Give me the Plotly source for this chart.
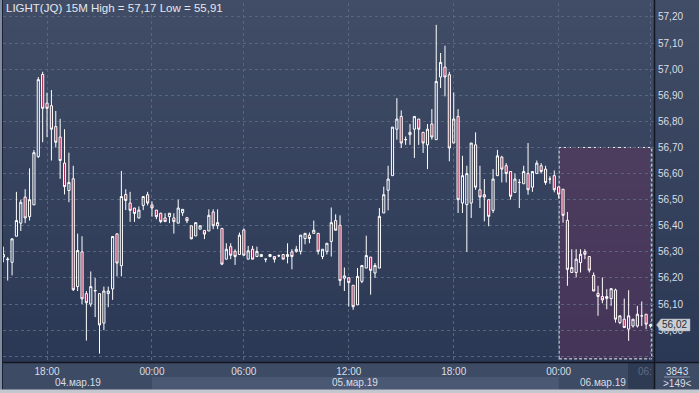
import plotly.graph_objects as go

# ---------------- data (15-minute bars, LIGHT(JQ)) ----------------
bar_open = [56.29, 56.27, 56.26, 56.36, 56.41, 56.51, 56.435, 56.48, 56.665, 56.98,
            56.87, 56.86, 56.78, 56.74, 56.64, 56.535, 56.58, 56.167, 56.30, 56.14,
            56.10, 56.15, 56.14, 56.027, 56.14, 56.158, 56.369, 56.247, 56.52, 56.487,
            56.468, 56.43, 56.478, 56.519, 56.48, 56.46, 56.448, 56.43, 56.435, 56.43,
            56.41, 56.45, 56.431, 56.40, 56.361, 56.387, 56.382, 56.38, 56.453, 56.40,
            56.39, 56.272, 56.32, 56.302, 56.29, 56.384, 56.272, 56.31, 56.282, 56.282,
            56.272, 56.282, 56.282, 56.285, 56.29, 56.282, 56.30, 56.302, 56.302, 56.351,
            56.364, 56.371, 56.371, 56.282, 56.302, 56.34, 56.42, 56.402, 56.199, 56.201,
            56.172, 56.097, 56.187, 56.238, 56.28, 56.219, 56.238, 56.449, 56.536, 56.592,
            56.77, 56.819, 56.73, 56.749, 56.77, 56.809, 56.758, 56.71, 56.79, 56.73,
            56.97, 57.008, 56.979, 56.717, 56.819, 56.487, 56.481, 56.487, 56.71, 56.538,
            56.519, 56.50, 56.459, 56.592, 56.663, 56.63, 56.608, 56.528, 56.566, 56.561,
            56.60, 56.548, 56.60, 56.63, 56.617, 56.579, 56.592, 56.549, 56.54, 56.421,
            56.221, 56.221, 56.259, 56.301, 56.282, 56.21, 56.141, 56.129, 56.121, 56.121,
            56.154, 56.029, 56.042, 56.004, 56.016, 56.016, 56.055, 56.061, 56.016]
bar_high = [56.32, 56.28, 56.35, 56.53, 56.50, 56.54, 56.62, 56.69, 56.97, 56.99,
            56.91, 56.92, 56.84, 56.81, 56.77, 56.68, 56.63, 56.37, 56.36, 56.15,
            56.225, 56.20, 56.14, 56.167, 56.167, 56.36, 56.37, 56.61, 56.54, 56.53,
            56.468, 56.474, 56.512, 56.53, 56.493, 56.46, 56.45, 56.448, 56.448, 56.448,
            56.50, 56.463, 56.431, 56.40, 56.412, 56.40, 56.382, 56.463, 56.463, 56.463,
            56.39, 56.333, 56.333, 56.31, 56.374, 56.39, 56.323, 56.323, 56.32, 56.29,
            56.272, 56.29, 56.282, 56.29, 56.29, 56.333, 56.31, 56.323, 56.364, 56.371,
            56.374, 56.42, 56.371, 56.31, 56.333, 56.47, 56.444, 56.44, 56.24, 56.201,
            56.172, 56.238, 56.248, 56.362, 56.28, 56.257, 56.468, 56.55, 56.63, 56.778,
            56.889, 56.842, 56.742, 56.79, 56.819, 56.809, 56.758, 56.79, 56.847, 57.17,
            57.062, 57.09, 56.99, 56.911, 56.847, 56.668, 56.63, 56.717, 56.758, 56.63,
            56.579, 56.50, 56.617, 56.691, 56.668, 56.64, 56.608, 56.60, 56.579, 56.63,
            56.717, 56.608, 56.65, 56.64, 56.63, 56.59, 56.612, 56.549, 56.54, 56.453,
            56.31, 56.31, 56.31, 56.31, 56.282, 56.221, 56.17, 56.202, 56.157, 56.159,
            56.159, 56.055, 56.121, 56.153, 56.042, 56.093, 56.11, 56.061, 56.023]
bar_low = [56.26, 56.19, 56.21, 56.36, 56.38, 56.41, 56.42, 56.48, 56.66, 56.72,
           56.74, 56.65, 56.70, 56.58, 56.52, 56.49, 56.15, 56.15, 56.10, 55.96,
           56.09, 56.05, 55.91, 56.00, 56.088, 56.116, 56.206, 56.206, 56.46, 56.415,
           56.415, 56.428, 56.46, 56.478, 56.435, 56.425, 56.41, 56.416, 56.41, 56.37,
           56.41, 56.438, 56.41, 56.348, 56.361, 56.387, 56.349, 56.38, 56.387, 56.387,
           56.249, 56.272, 56.272, 56.25, 56.29, 56.287, 56.272, 56.272, 56.282, 56.282,
           56.26, 56.282, 56.259, 56.28, 56.272, 56.256, 56.233, 56.297, 56.29, 56.329,
           56.333, 56.371, 56.29, 56.272, 56.29, 56.282, 56.383, 56.17, 56.15, 56.09,
           56.078, 56.097, 56.18, 56.238, 56.136, 56.20, 56.238, 56.449, 56.459, 56.592,
           56.73, 56.698, 56.71, 56.71, 56.66, 56.71, 56.679, 56.617, 56.73, 56.73,
           56.928, 56.896, 56.647, 56.717, 56.449, 56.449, 56.30, 56.43, 56.538, 56.468,
           56.417, 56.398, 56.449, 56.592, 56.566, 56.566, 56.50, 56.528, 56.468, 56.561,
           56.519, 56.53, 56.60, 56.60, 56.557, 56.561, 56.528, 56.504, 56.412, 56.17,
           56.221, 56.202, 56.221, 56.272, 56.221, 56.15, 56.055, 56.103, 56.08, 56.093,
           56.029, 56.023, 56.01, 55.959, 56.01, 56.01, 56.016, 56.004, 56.01]
bar_close = [56.28, 56.272, 56.35, 56.42, 56.49, 56.43, 56.50, 56.68, 56.96, 56.85,
             56.85, 56.77, 56.72, 56.65, 56.55, 56.566, 56.155, 56.305, 56.12, 56.105,
             56.167, 56.152, 56.02, 56.15, 56.15, 56.359, 56.257, 56.512, 56.497, 56.459,
             56.447, 56.46, 56.512, 56.487, 56.468, 56.435, 56.416, 56.416, 56.448, 56.416,
             56.468, 56.463, 56.419, 56.35, 56.412, 56.40, 56.368, 56.44, 56.40, 56.412,
             56.253, 56.31, 56.287, 56.282, 56.364, 56.287, 56.304, 56.272, 56.302, 56.29,
             56.272, 56.29, 56.272, 56.285, 56.272, 56.29, 56.282, 56.31, 56.364, 56.371,
             56.351, 56.383, 56.302, 56.31, 56.333, 56.412, 56.383, 56.19, 56.208, 56.182,
             56.09, 56.206, 56.248, 56.286, 56.229, 56.248, 56.436, 56.519, 56.579, 56.778,
             56.809, 56.717, 56.73, 56.758, 56.819, 56.77, 56.717, 56.77, 56.74, 56.953,
             57.026, 56.97, 56.698, 56.809, 56.50, 56.592, 56.60, 56.717, 56.548, 56.51,
             56.51, 56.436, 56.579, 56.668, 56.617, 56.60, 56.513, 56.579, 56.566, 56.608,
             56.538, 56.608, 56.64, 56.608, 56.566, 56.579, 56.538, 56.521, 56.44, 56.233,
             56.24, 56.272, 56.291, 56.291, 56.23, 56.15, 56.129, 56.116, 56.129, 56.159,
             56.042, 56.055, 56.01, 56.055, 56.042, 56.061, 56.055, 56.023, 56.02]
bar_index = list(range(len(bar_open)))

time_tick_pos = [10, 34, 55, 79, 103, 127, 148]
time_tick_text = ["18:00", "00:00", "06:00", "12:00", "18:00", "00:00", ""]
date_labels = ["04.мар.19", "05.мар.19", "06.мар.19"]
day_start = [0, 34, 127]
price_ticks = [round(55.9 + 0.1 * k, 2) for k in range(14)]
price_tick_text = ["" if p < 56.0 else f"{p:.2f}".replace(".", ",") for p in price_ticks]
selection = dict(x0=127.1, x1=148.3, y0=55.89, y1=56.70)
title_text = "LIGHT(JQ) 15M High = 57,17 Low = 55,91"
bars_count_text = "3843"
visible_text = ">149<"

# ---------------- layout geometry ----------------
W, H = 699, 393
ML, MR, MT, MB = 3, 44, 3, 31
XR = [-0.07, 149.03]
YR = [55.878, 57.2536]
FONT = "Liberation Sans, Arial, sans-serif"
FS = 10
TXT = "#dadee5"


def pxX(X):
    return (X - ML) / (W - ML - MR)


def pyY(Y):
    return (H - MB - Y) / (H - MT - MB)


def x_of_index(i):
    return (i - XR[0]) / (XR[1] - XR[0])


def y_of_price(p):
    return (p - YR[0]) / (YR[1] - YR[0])


shapes = []
# vertical gradient background for plot + price axis
N = 40
top_c = (65, 77, 102)
bot_c = (43, 56, 85)
Ytop, Ybot = 0, 362.5
for k in range(N):
    t = k / (N - 1)
    c = tuple(int(round(top_c[j] + (bot_c[j] - top_c[j]) * t)) for j in range(3))
    y0 = Ytop + (Ybot - Ytop) * k / N
    y1 = Ytop + (Ybot - Ytop) * (k + 1) / N
    shapes.append(dict(type="rect", xref="paper", yref="paper", layer="below",
                       x0=pxX(0), x1=pxX(W), y0=pyY(y1 + 0.5), y1=pyY(y0),
                       fillcolor="rgb(%d,%d,%d)" % c, line=dict(width=0)))

# date band for the middle day
shapes.append(dict(type="rect", xref="paper", yref="paper", layer="below",
                   x0=x_of_index(day_start[1]), x1=x_of_index(day_start[2]),
                   y0=pyY(389.5), y1=pyY(377), fillcolor="#4b5873", line=dict(width=0)))
# dark current-time box
shapes.append(dict(type="rect", xref="paper", yref="paper", layer="below",
                   x0=pxX(628), x1=pxX(654.5), y0=pyY(389.5), y1=pyY(363),
                   fillcolor="#2f3a53", line=dict(width=0)))
# selection region
shapes.append(dict(type="rect", xref="x", yref="y", layer="below",
                   x0=selection["x0"], x1=selection["x1"],
                   y0=selection["y0"], y1=selection["y1"],
                   fillcolor="rgba(118,48,95,0.34)",
                   line=dict(color="#f0f0f0", width=1, dash="3px,2px")))
# frame lines
shapes.append(dict(type="line", xref="paper", yref="paper", layer="above",
                   x0=pxX(0), x1=pxX(W), y0=pyY(362.5), y1=pyY(362.5),
                   line=dict(color="#121722", width=1.5)))
shapes.append(dict(type="line", xref="paper", yref="paper", layer="above",
                   x0=pxX(654.5), x1=pxX(654.5), y0=pyY(389.5), y1=pyY(0),
                   line=dict(color="#121722", width=1.5)))
shapes.append(dict(type="rect", xref="paper", yref="paper", layer="above",
                   x0=pxX(0), x1=pxX(2), y0=pyY(390), y1=pyY(0),
                   fillcolor="#7f8ba3", line=dict(width=0)))
shapes.append(dict(type="line", xref="paper", yref="paper", layer="above",
                   x0=pxX(2.5), x1=pxX(2.5), y0=pyY(389.5), y1=pyY(0),
                   line=dict(color="#1a2130", width=1)))
shapes.append(dict(type="rect", xref="paper", yref="paper", layer="above",
                   x0=pxX(0), x1=pxX(W), y0=pyY(H), y1=pyY(389.5),
                   fillcolor="#c3c8d0", line=dict(width=0)))
# separator in the counter box
shapes.append(dict(type="line", xref="paper", yref="paper", layer="above",
                   x0=pxX(664), x1=pxX(690), y0=pyY(377), y1=pyY(377),
                   line=dict(color="#8a94a8", width=1)))
# last price tag
last = bar_close[-1]
yc = y_of_price(last)
hh = 6 / (H - MT - MB)
xt, xa, xb = pxX(656.5), pxX(661), pxX(690)
shapes.append(dict(type="path", xref="paper", yref="paper", layer="above",
                   path=f"M {xt},{yc} L {xa},{yc + hh} L {xb},{yc + hh} L {xb},{yc - hh} L {xa},{yc - hh} Z",
                   fillcolor="#c9cdd4", line=dict(color="#aeb3bc", width=0.5)))

annotations = [
    dict(text=title_text, xref="paper", yref="paper", x=pxX(4), y=pyY(8.5),
         xanchor="left", yanchor="middle", showarrow=False,
         font=dict(family=FONT, size=11.5, color="#e4e7ec")),
    dict(text=f"{last:.2f}".replace(".", ","), xref="paper", yref="paper",
         x=pxX(660), y=yc, xanchor="left", yanchor="middle", showarrow=False,
         font=dict(family=FONT, size=FS, color="#2a2e36")),
    dict(text=date_labels[0], xref="paper", yref="paper",
         x=x_of_index((day_start[0] + day_start[1]) / 2), y=pyY(382.5),
         xanchor="center", yanchor="middle", showarrow=False,
         font=dict(family=FONT, size=FS, color=TXT)),
    dict(text=date_labels[1], xref="paper", yref="paper",
         x=x_of_index((day_start[1] + day_start[2]) / 2), y=pyY(382.5),
         xanchor="center", yanchor="middle", showarrow=False,
         font=dict(family=FONT, size=FS, color=TXT)),
    dict(text=date_labels[2], xref="paper", yref="paper",
         x=pxX(628), y=pyY(382.5), xanchor="right", yanchor="middle", showarrow=False,
         font=dict(family=FONT, size=FS, color=TXT)),
    dict(text="06:", xref="paper", yref="paper", x=pxX(645), y=pyY(371.5),
         xanchor="center", yanchor="middle", showarrow=False,
         font=dict(family=FONT, size=FS, color="#5f6b86")),
    dict(text=bars_count_text, xref="paper", yref="paper", x=pxX(677), y=pyY(371),
         xanchor="center", yanchor="middle", showarrow=False,
         font=dict(family=FONT, size=FS, color=TXT)),
    dict(text=visible_text, xref="paper", yref="paper", x=pxX(677), y=pyY(383.5),
         xanchor="center", yanchor="middle", showarrow=False,
         font=dict(family=FONT, size=FS, color=TXT)),
]

fig = go.Figure(go.Candlestick(
    x=bar_index, open=bar_open, high=bar_high, low=bar_low, close=bar_close,
    increasing=dict(line=dict(color="#ffffff", width=1), fillcolor="rgba(0,0,0,0)"),
    decreasing=dict(line=dict(color="#ffffff", width=1), fillcolor="#a82a50"),
    whiskerwidth=0, showlegend=False, hoverinfo="skip"))

fig.update_layout(
    width=W, height=H, margin=dict(l=ML, r=MR, t=MT, b=MB, pad=0),
    paper_bgcolor="#3e4b64", plot_bgcolor="rgba(0,0,0,0)",
    separators=", ", showlegend=False,
    font=dict(family=FONT, size=FS, color=TXT),
    shapes=shapes, annotations=annotations,
    xaxis=dict(range=XR, tickmode="array", tickvals=time_tick_pos, ticktext=time_tick_text,
               showgrid=True, gridcolor="#58657f", griddash="3px,3px", gridwidth=1,
               zeroline=False, showline=False, ticks="", ticklabelstandoff=2,
               rangeslider=dict(visible=False), fixedrange=True,
               tickfont=dict(family=FONT, size=FS, color=TXT)),
    yaxis=dict(range=YR, side="right", tickmode="array", tickvals=price_ticks,
               ticktext=price_tick_text,
               showgrid=True, gridcolor="#58657f", griddash="3px,3px", gridwidth=1,
               zeroline=False, showline=False, ticks="", ticklabelstandoff=2,
               fixedrange=True,
               tickfont=dict(family=FONT, size=FS, color=TXT)),
)

fig.write_html("out.html", config={"displayModeBar": False},
               post_script="document.body.style.margin='0';document.body.style.overflow='hidden';")
